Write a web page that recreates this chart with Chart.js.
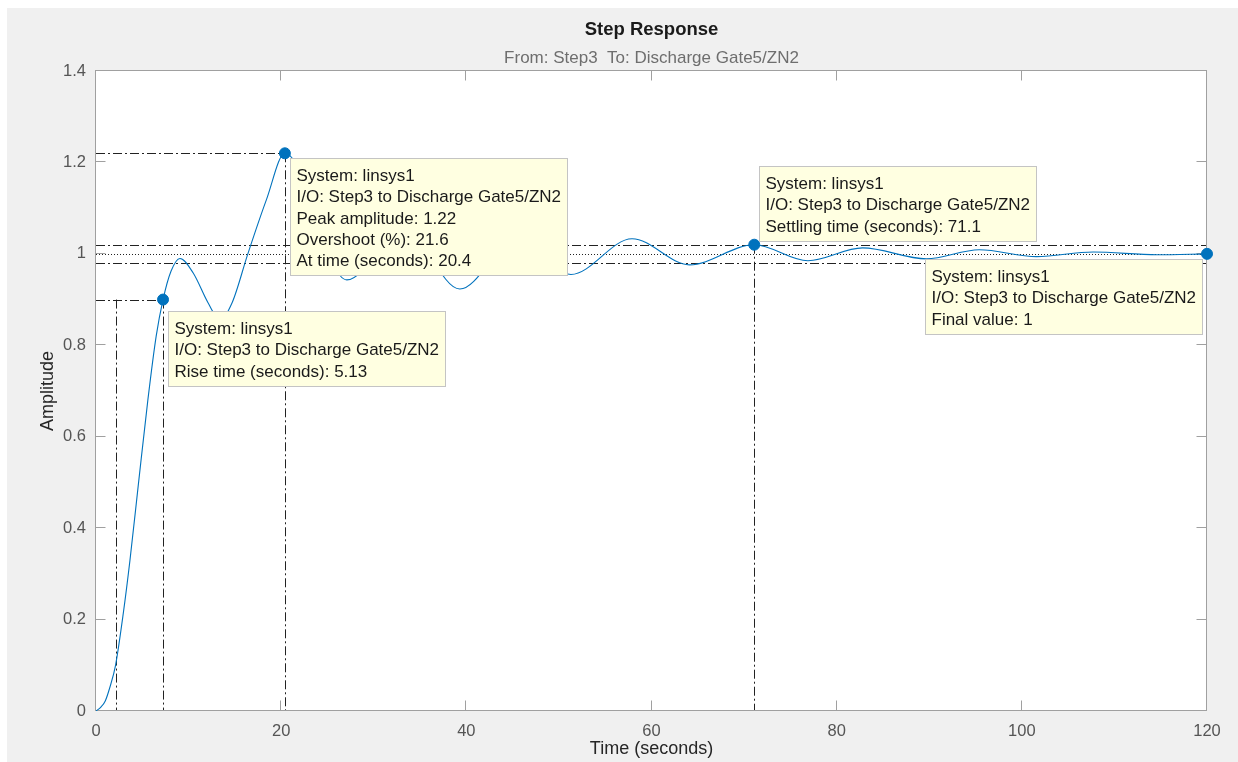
<!DOCTYPE html>
<html>
<head>
<meta charset="utf-8">
<title>Step Response</title>
<script src="https://cdn.jsdelivr.net/npm/chart.js@4.4.1/dist/chart.umd.min.js"></script>
<style>
  html, body { margin: 0; padding: 0; background: #ffffff; overflow: hidden; }
  #wrap { width: 1238px; height: 762px; position: relative; }
  canvas { display: block; }
</style>
</head>
<body>
<div id="wrap"><canvas id="stepChart" width="1238" height="762"></canvas></div>
<script>
// Step response of linsys1 (Step3 -> Discharge Gate5/ZN2)
const timeSeconds = [
  0, 0.5, 1.0, 1.5, 2.11, 2.95, 3.67, 4.6, 5.6, 6.5, 7.24, 8.1, 9.07,
  10.5, 12.1, 13.4, 14.7, 16.4, 18.4, 20.4,
  27.1, 33.2, 39.3, 45.3, 51.3, 57.9, 64.1, 71.1,
  76.9, 82.8, 89.7, 95.4, 101.6, 107.7, 114.6, 120
];
const amplitude = [
  0, 0.008, 0.022, 0.052, 0.1, 0.214, 0.33, 0.5, 0.68, 0.82, 0.9, 0.962, 0.99,
  0.958, 0.893, 0.855, 0.893, 1.0, 1.118, 1.22,
  0.943, 1.06, 0.923, 1.03, 0.955, 1.033, 0.976, 1.02,
  0.985, 1.013, 0.989, 1.009, 0.994, 1.004, 0.998, 1.0
];

const xTickValues = [0, 20, 40, 60, 80, 100, 120];
const xTickLabels = ['0', '20', '40', '60', '80', '100', '120'];
const yTickValues = [0, 0.2, 0.4, 0.6, 0.8, 1, 1.2, 1.4];
const yTickLabels = ['0', '0.2', '0.4', '0.6', '0.8', '1', '1.2', '1.4'];

// Step characteristics
const riseLow = { t: 2.11, y: 0.1 };
const riseHigh = { t: 7.24, y: 0.9 };
const peakPoint = { t: 20.4, y: 1.22 };
const overshootPct = 21.6;
const settlingPoint = { t: 71.1, y: 1.02 };
const settleBand = [0.98, 1.02];
const finalPoint = { t: 120, y: 1 };

const chartTitle = 'Step Response';
const chartSubtitle = 'From: Step3  To: Discharge Gate5/ZN2';
const systemName = 'linsys1';
const ioName = 'Step3 to Discharge Gate5/ZN2';

const FONT = '"Liberation Sans", Arial, Helvetica, sans-serif';
const LINE_BLUE = '#0072BD';

const infoBoxes = [
  { at: riseHigh, place: 'belowRight', dx: 5, dy: 11,
    lines: ['System: ' + systemName, 'I/O: ' + ioName,
            'Rise time (seconds): ' + (riseHigh.t - riseLow.t).toFixed(2)] },
  { at: peakPoint, place: 'belowRight', dx: 5, dy: 5,
    lines: ['System: ' + systemName, 'I/O: ' + ioName,
            'Peak amplitude: ' + peakPoint.y, 'Overshoot (%): ' + overshootPct,
            'At time (seconds): ' + peakPoint.t] },
  { at: settlingPoint, place: 'aboveRight', dx: 5, dy: 4,
    lines: ['System: ' + systemName, 'I/O: ' + ioName,
            'Settling time (seconds): ' + settlingPoint.t] },
  { at: finalPoint, place: 'belowLeft', dx: 5, dy: 5,
    lines: ['System: ' + systemName, 'I/O: ' + ioName,
            'Final value: ' + finalPoint.y] }
];

const DASH_DOT = [9, 3, 2, 3];
const DOTTED = [1, 2];

function crisp(v) { return Math.round(v) + 0.5; }

const decorPlugin = {
  id: 'stepDecor',
  beforeDraw(chart) {
    const { ctx, width, height, chartArea: a } = chart;
    ctx.save();
    ctx.fillStyle = '#ffffff';
    ctx.fillRect(0, 0, width, height);
    ctx.fillStyle = '#f0f0f0';
    ctx.fillRect(7, 8, width - 7, height - 8);
    ctx.fillStyle = '#ffffff';
    ctx.fillRect(a.left, a.top, a.right - a.left, a.bottom - a.top);
    // title and subtitle, centred over the axes
    const cx = (a.left + a.right) / 2;
    ctx.textAlign = 'center';
    ctx.textBaseline = 'middle';
    ctx.fillStyle = '#1a1a1a';
    ctx.font = 'bold 18.5px ' + FONT;
    ctx.fillText(chartTitle, cx, 30);
    ctx.fillStyle = '#6e6e6e';
    ctx.font = '17px ' + FONT;
    ctx.fillText(chartSubtitle, cx, 58);
    ctx.restore();
  },
  beforeDatasetsDraw(chart) {
    const { ctx, chartArea: a, scales: { x, y } } = chart;
    ctx.save();
    // characteristic guide lines
    ctx.strokeStyle = '#222222';
    ctx.lineWidth = 1;
    const hLine = (val, x0, x1, dash) => {
      const py = crisp(y.getPixelForValue(val));
      ctx.setLineDash(dash);
      ctx.beginPath(); ctx.moveTo(x0, py); ctx.lineTo(x1, py); ctx.stroke();
    };
    const vLine = (t, top, dash) => {
      const px = crisp(x.getPixelForValue(t));
      ctx.setLineDash(dash);
      ctx.beginPath(); ctx.moveTo(px, y.getPixelForValue(top)); ctx.lineTo(px, a.bottom); ctx.stroke();
    };
    hLine(riseHigh.y, a.left, x.getPixelForValue(riseHigh.t), DASH_DOT);
    vLine(riseLow.t, riseHigh.y, DASH_DOT);
    vLine(riseHigh.t, riseHigh.y, DASH_DOT);
    hLine(peakPoint.y, a.left, x.getPixelForValue(peakPoint.t), DASH_DOT);
    vLine(peakPoint.t, peakPoint.y, DASH_DOT);
    hLine(settleBand[1], a.left, a.right, DASH_DOT);
    hLine(settleBand[0], a.left, a.right, DASH_DOT);
    vLine(settlingPoint.t, settlingPoint.y, DASH_DOT);
    hLine(finalPoint.y, a.left, a.right, DOTTED);

    // axes box with inward ticks
    ctx.setLineDash([]);
    ctx.strokeStyle = '#a0a0a0';
    ctx.lineWidth = 1;
    const L = crisp(a.left) - 1, R = crisp(a.right) - 1, T = crisp(a.top) - 1, B = crisp(a.bottom) - 1;
    ctx.strokeRect(L, T, R - L, B - T);
    const tl = 10;
    ctx.beginPath();
    xTickValues.forEach(v => {
      const px = crisp(x.getPixelForValue(v)) - 1;
      ctx.moveTo(px, B); ctx.lineTo(px, B - tl);
      ctx.moveTo(px, T); ctx.lineTo(px, T + tl);
    });
    yTickValues.forEach(v => {
      const py = crisp(y.getPixelForValue(v)) - 1;
      ctx.moveTo(L, py); ctx.lineTo(L + tl, py);
      ctx.moveTo(R, py); ctx.lineTo(R - tl, py);
    });
    ctx.stroke();
    ctx.restore();
  },
  afterDatasetsDraw(chart) {
    const { ctx, scales: { x, y } } = chart;
    ctx.save();
    ctx.font = '17px ' + FONT;
    ctx.textBaseline = 'middle';
    const lineH = 21.3, padTop = 18, padBottom = 14, padX = 6;
    infoBoxes.forEach(box => {
      const px = x.getPixelForValue(box.at.t);
      const py = y.getPixelForValue(box.at.y);
      const w = Math.ceil(Math.max(...box.lines.map(s => ctx.measureText(s).width))) + 2 * padX;
      const h = Math.round(padTop + (box.lines.length - 1) * lineH + padBottom);
      let left, top;
      if (box.place === 'belowRight') { left = px + box.dx; top = py + box.dy; }
      else if (box.place === 'aboveRight') { left = px + box.dx; top = py - box.dy - h; }
      else { left = px - box.dx - w; top = py + box.dy; }
      left = Math.round(left) + 0.5; top = Math.round(top) + 0.5;
      ctx.fillStyle = '#ffffe1';
      ctx.fillRect(left, top, w, h);
      ctx.strokeStyle = '#c4c4c4';
      ctx.lineWidth = 1;
      ctx.strokeRect(left, top, w, h);
      ctx.fillStyle = '#1a1a1a';
      box.lines.forEach((s, i) => ctx.fillText(s, left + padX, top + padTop + i * lineH));
    });
    ctx.restore();
  }
};

const curvePoints = timeSeconds.map((t, i) => ({ x: t, y: amplitude[i] }));
const markerPoints = [riseHigh, peakPoint, settlingPoint, finalPoint].map(p => ({ x: p.t, y: p.y }));

new Chart(document.getElementById('stepChart'), {
  type: 'scatter',
  data: {
    datasets: [
      {
        label: 'linsys1',
        data: curvePoints,
        showLine: true,
        borderColor: LINE_BLUE,
        borderWidth: 1.1,
        pointRadius: 0,
        cubicInterpolationMode: 'monotone',
        fill: false,
        order: 2
      },
      {
        label: 'characteristics',
        data: markerPoints,
        showLine: false,
        pointRadius: 5.5,
        pointBorderWidth: 1,
        backgroundColor: LINE_BLUE,
        borderColor: LINE_BLUE,
        clip: false,
        order: 1
      }
    ]
  },
  options: {
    responsive: false,
    animation: false,
    events: [],
    layout: { padding: { left: 0, right: 31, top: 71, bottom: 0 } },
    plugins: {
      legend: { display: false },
      tooltip: { enabled: false },
      title: { display: false },
      subtitle: { display: false }
    },
    scales: {
      x: {
        type: 'linear',
        min: 0,
        max: 120,
        afterBuildTicks: s => { s.ticks = xTickValues.map(v => ({ value: v })); },
        afterFit: s => { s.height = 51; },
        ticks: {
          callback: v => xTickLabels[xTickValues.indexOf(v)],
          color: '#555555',
          font: { family: FONT, size: 16.5, lineHeight: 1.2 },
          padding: 11,
          maxRotation: 0,
          autoSkip: false
        },
        grid: { display: false, drawTicks: false },
        border: { display: false },
        title: {
          display: true,
          text: 'Time (seconds)',
          color: '#262626',
          font: { family: FONT, size: 18, lineHeight: 1.2 },
          padding: { top: 0, bottom: 2.2 }
        }
      },
      y: {
        type: 'linear',
        min: 0,
        max: 1.4,
        afterBuildTicks: s => { s.ticks = yTickValues.map(v => ({ value: v })); },
        afterFit: s => { s.width = 96; },
        ticks: {
          callback: v => yTickLabels[yTickValues.indexOf(v)],
          color: '#555555',
          font: { family: FONT, size: 16.5, lineHeight: 1.2 },
          padding: 10,
          autoSkip: false
        },
        grid: { display: false, drawTicks: false },
        border: { display: false },
        title: {
          display: true,
          text: 'Amplitude',
          color: '#262626',
          font: { family: FONT, size: 18, lineHeight: 1.2 },
          padding: { top: 37.2, bottom: 0 }
        }
      }
    }
  },
  plugins: [decorPlugin]
});
</script>
</body>
</html>
